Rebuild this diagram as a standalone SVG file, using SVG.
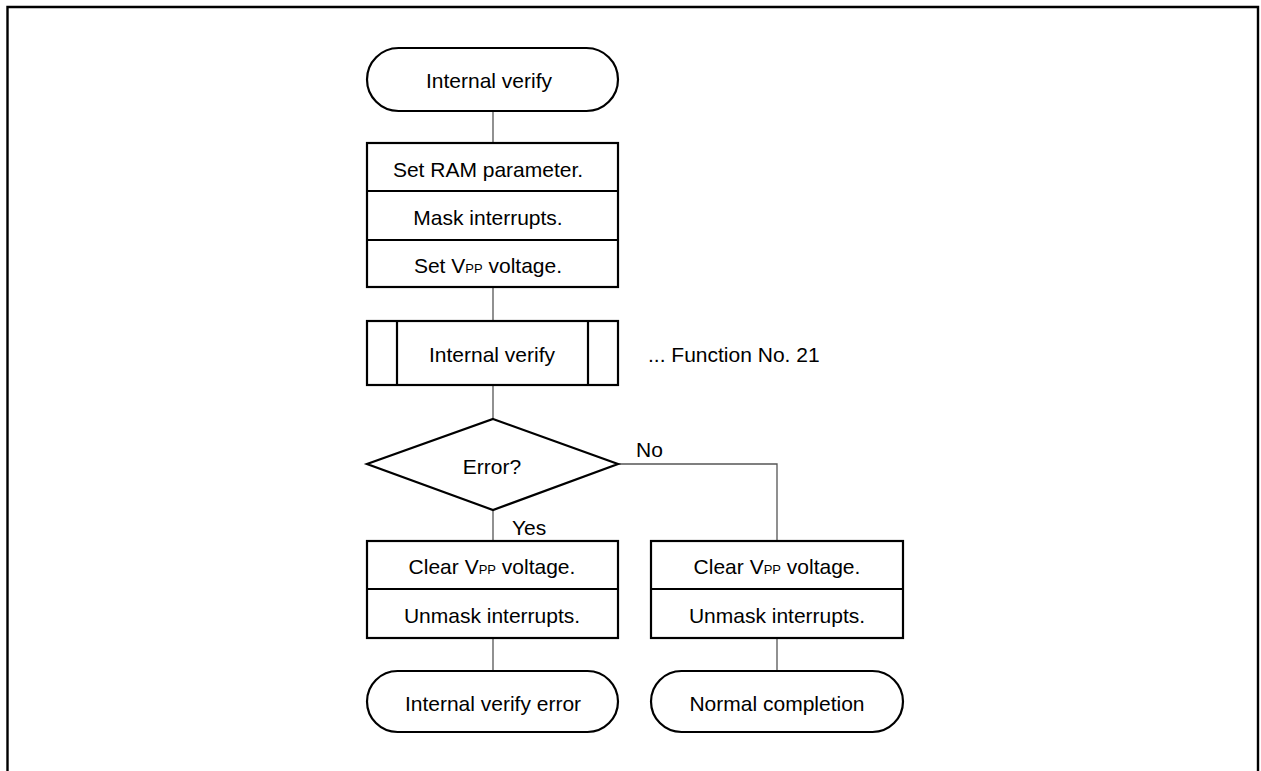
<svg xmlns="http://www.w3.org/2000/svg" width="1261" height="771" viewBox="0 0 1261 771">
<style>
  .shape { fill: #ffffff; stroke: #000000; stroke-width: 2.2; }
  .div { stroke: #000000; stroke-width: 2.2; fill: none; }
  .conn { stroke: #555555; stroke-width: 1.3; fill: none; }
  .frame { stroke: #000000; stroke-width: 2.4; fill: none; }
  text { font-family: "Liberation Sans", Arial, sans-serif; font-size: 21px; fill: #000000; }
  .c { text-anchor: middle; }
  .sub { font-size: 13px; }
</style>
<rect width="1261" height="771" fill="#ffffff"/>
<path class="frame" d="M7.5,771 V7 H1258 V771"/>

<g id="connectors">
  <line class="conn" x1="493" y1="111" x2="493" y2="143"/>
  <line class="conn" x1="493" y1="287" x2="493" y2="321"/>
  <line class="conn" x1="493" y1="385" x2="493" y2="419"/>
  <line class="conn" x1="493" y1="510" x2="493" y2="541"/>
  <polyline class="conn" points="618,464 777,464 777,541"/>
  <line class="conn" x1="493" y1="638" x2="493" y2="671"/>
  <line class="conn" x1="777" y1="638" x2="777" y2="671"/>
  <text x="636" y="457">No</text>
  <text x="512" y="535">Yes</text>
</g>

<g id="start">
  <rect class="shape" x="367" y="48" width="251" height="63" rx="31.5" ry="31.5"/>
  <text class="c" x="489" y="87.5">Internal verify</text>
</g>

<g id="setup">
  <rect class="shape" x="367" y="143" width="251" height="144"/>
  <line class="div" x1="367" y1="191" x2="618" y2="191"/>
  <line class="div" x1="367" y1="240" x2="618" y2="240"/>
  <text class="c" x="488" y="176.5">Set RAM parameter.</text>
  <text class="c" x="488" y="225">Mask interrupts.</text>
  <text class="c" x="488" y="273">Set V<tspan class="sub">PP</tspan> voltage.</text>
</g>

<g id="verify">
  <rect class="shape" x="367" y="321" width="251" height="64"/>
  <line class="div" x1="397" y1="321" x2="397" y2="385"/>
  <line class="div" x1="588" y1="321" x2="588" y2="385"/>
  <text class="c" x="492" y="361.5">Internal verify</text>
  <text x="648" y="361.5">... Function No. 21</text>
</g>

<g id="decision">
  <polygon class="shape" points="493,419 618,464 493,510 367,464"/>
  <text class="c" x="492" y="473.5">Error?</text>
</g>

<g id="clear-error">
  <rect class="shape" x="367" y="541" width="251" height="97"/>
  <line class="div" x1="367" y1="589" x2="618" y2="589"/>
  <text class="c" x="492" y="574">Clear V<tspan class="sub">PP</tspan> voltage.</text>
  <text class="c" x="492" y="622.5">Unmask interrupts.</text>
</g>

<g id="clear-normal">
  <rect class="shape" x="651" y="541" width="252" height="97"/>
  <line class="div" x1="651" y1="589" x2="903" y2="589"/>
  <text class="c" x="777" y="574">Clear V<tspan class="sub">PP</tspan> voltage.</text>
  <text class="c" x="777" y="622.5">Unmask interrupts.</text>
</g>

<g id="end-error">
  <rect class="shape" x="367" y="671" width="251" height="61" rx="30.5" ry="30.5"/>
  <text class="c" x="493" y="710.5">Internal verify error</text>
</g>

<g id="end-normal">
  <rect class="shape" x="651" y="671" width="252" height="61" rx="30.5" ry="30.5"/>
  <text class="c" x="777" y="710.5">Normal completion</text>
</g>
</svg>
